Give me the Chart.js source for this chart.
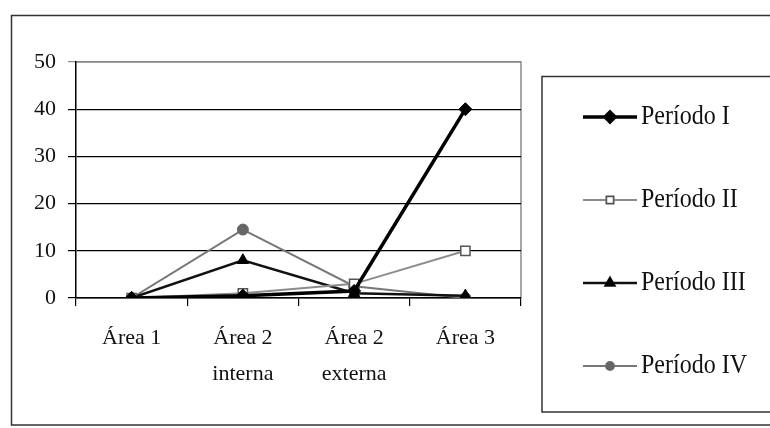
<!DOCTYPE html>
<html>
<head>
<meta charset="utf-8">
<script src="https://cdn.jsdelivr.net/npm/chart.js@4.4.0/dist/chart.umd.min.js"></script>
<style>
  html, body { margin: 0; padding: 0; background: #fff; }
  #wrap { width: 770px; height: 428px; position: relative; }
</style>
</head>
<body>
<div id="wrap"><canvas id="c" width="770" height="428"></canvas></div>
<script>
const categories = [["Área 1"], ["Área 2", "interna"], ["Área 2", "externa"], ["Área 3"]];
const seriesNames = ["Período I", "Período II", "Período III", "Período IV"];
const periodo1 = [0, 0.5, 1.5, 40];
const periodo2 = [0, 1, 3, 10];
const periodo3 = [0, 8, 1, 0.5];
const periodo4 = [0, 14.5, 2.5, 0];
const yTicks = [0, 10, 20, 30, 40, 50];

const FONT = "'Liberation Serif', 'Times New Roman', serif";

const frame = {
  id: 'frame',
  beforeDraw(chart) {
    const ctx = chart.ctx;
    ctx.save();
    ctx.fillStyle = '#fff';
    ctx.fillRect(0, 0, chart.width, chart.height);
    ctx.strokeStyle = '#333';
    ctx.lineWidth = 1.5;
    // outer border (right edge beyond view)
    ctx.beginPath();
    ctx.moveTo(chart.width + 5, 15.5);
    ctx.lineTo(11.5, 15.5);
    ctx.lineTo(11.5, 425);
    ctx.lineTo(chart.width + 5, 425);
    ctx.stroke();
    // legend box
    ctx.beginPath();
    ctx.moveTo(chart.width + 5, 76.5);
    ctx.lineTo(542, 76.5);
    ctx.lineTo(542, 412);
    ctx.lineTo(chart.width + 5, 412);
    ctx.stroke();
    // plot area right/top border
    const a = chart.chartArea;
    ctx.strokeStyle = '#8a8a8a';
    ctx.lineWidth = 1.5;
    ctx.beginPath();
    ctx.moveTo(a.left, a.top);
    ctx.lineTo(a.right, a.top);
    ctx.lineTo(a.right, a.bottom);
    ctx.stroke();
    ctx.restore();
  },
  afterDraw(chart) {
    const ctx = chart.ctx;
    ctx.save();
    const ys = [117, 200, 283, 366];
    chart.data.datasets.forEach((ds, i) => {
      const y = ys[i];
      ctx.strokeStyle = ds.borderColor;
      ctx.lineWidth = ds.borderWidth;
      ctx.beginPath();
      ctx.moveTo(583, y);
      ctx.lineTo(637, y);
      ctx.stroke();
      Chart.helpers.drawPoint(ctx, {
        pointStyle: ds.pointStyle,
        radius: ds.pointRadius - 1.5,
        rotation: 0,
        borderWidth: ds.pointBorderWidth
      }, 610, y);
      ctx.fillStyle = ds.pointBackgroundColor;
      ctx.strokeStyle = ds.pointBorderColor;
      ctx.lineWidth = ds.pointBorderWidth;
      ctx.fill();
      ctx.stroke();
      ctx.fillStyle = '#111';
      ctx.font = '24px ' + FONT;
      ctx.textBaseline = 'middle';
      ctx.textAlign = 'left';
      ctx.save();
      ctx.translate(641, y);
      ctx.scale(1, 1.15);
      ctx.fillText(ds.label, 0, 0);
      ctx.restore();
    });
    ctx.restore();
  }
};

new Chart(document.getElementById('c'), {
  type: 'line',
  data: {
    labels: categories,
    datasets: [
      { label: seriesNames[0], data: periodo1, borderColor: '#000', borderWidth: 3.5,
        pointStyle: 'rectRot', pointRadius: 6.5, pointBackgroundColor: '#000', pointBorderColor: '#000', pointBorderWidth: 1 },
      { label: seriesNames[1], data: periodo2, borderColor: '#8c8c8c', borderWidth: 2,
        pointStyle: 'rect', pointRadius: 6.5, pointBackgroundColor: '#fff', pointBorderColor: '#555', pointBorderWidth: 1.5 },
      { label: seriesNames[2], data: periodo3, borderColor: '#111', borderWidth: 2.5,
        pointStyle: 'triangle', pointRadius: 6.5, pointBackgroundColor: '#000', pointBorderColor: '#000', pointBorderWidth: 1 },
      { label: seriesNames[3], data: periodo4, borderColor: '#777', borderWidth: 2,
        pointStyle: 'circle', pointRadius: 5.5, pointBackgroundColor: '#666', pointBorderColor: '#666', pointBorderWidth: 1 }
    ]
  },
  options: {
    responsive: false,
    animation: false,
    devicePixelRatio: 1,
    layout: { padding: { left: 20, top: 62, right: 249, bottom: 10 } },
    plugins: { legend: { display: false }, tooltip: { enabled: false } },
    elements: { line: { tension: 0 } },
    scales: {
      x: {
        offset: true,
        grid: { offset: true, drawOnChartArea: false, drawTicks: true, tickLength: 8, color: '#000', lineWidth: 1.2 },
        border: { color: '#000', width: 1.5 },
        ticks: { color: '#111', font: { family: FONT, size: 22, lineHeight: 1.6 }, padding: 15, maxRotation: 0, autoSkip: false },
        afterFit(s) { s.height = 120; }
      },
      y: {
        min: 0, max: 50,
        afterBuildTicks(s) { s.ticks = yTicks.map(v => ({ value: v })); },
        grid: { color: c => (c.tick && c.tick.value === 50 ? '#8a8a8a' : '#000'), lineWidth: 1.2, tickLength: 8, drawTicks: true },
        border: { color: '#000', width: 1.5 },
        ticks: { color: '#111', font: { family: FONT, size: 22 }, padding: 12 },
        afterFit(s) { s.width = 56; }
      }
    }
  },
  plugins: [frame]
});
</script>
</body>
</html>
